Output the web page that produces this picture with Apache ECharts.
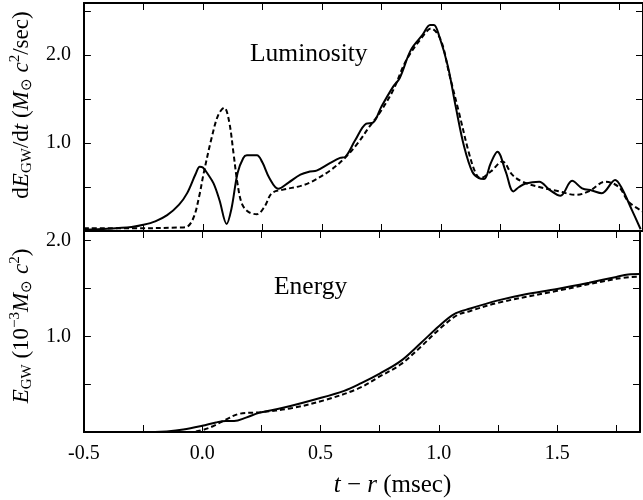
<!DOCTYPE html>
<html><head><meta charset="utf-8">
<script src="https://cdn.jsdelivr.net/npm/echarts/dist/echarts.min.js"></script>
<style>html,body{margin:0;padding:0;background:#fff}#c{width:643px;height:500px}</style>
</head><body><div id="c"></div>
<script>
// ---- data ----
const lumSolid = [
 [-0.50,0.015],[-0.40,0.025],[-0.30,0.045],[-0.25,0.07],[-0.20,0.11],[-0.15,0.18],[-0.10,0.30],
 [-0.066,0.43],[-0.03,0.65],[-0.013,0.73],[0.0,0.72],[0.02,0.65],[0.045,0.54],[0.07,0.35],
 [0.10,0.08],[0.12,0.25],[0.146,0.66],[0.17,0.83],[0.185,0.86],[0.227,0.86],[0.25,0.78],
 [0.28,0.60],[0.317,0.48],[0.36,0.55],[0.41,0.64],[0.45,0.675],[0.478,0.685],[0.534,0.77],
 [0.577,0.83],[0.60,0.845],[0.64,1.03],[0.687,1.22],[0.715,1.23],[0.75,1.41],[0.80,1.64],
 [0.827,1.735],[0.875,2.06],[0.924,2.23],[0.955,2.34],[0.971,2.34],[0.994,2.21],[1.03,1.87],
 [1.063,1.41],[1.098,0.96],[1.133,0.67],[1.16,0.60],[1.182,0.59],[1.21,0.77],[1.238,0.90],
 [1.273,0.675],[1.305,0.45],[1.329,0.50],[1.357,0.54],[1.414,0.56],[1.456,0.47],[1.503,0.40],
 [1.552,0.57],[1.594,0.485],[1.635,0.46],[1.677,0.43],[1.733,0.58],[1.761,0.485],[1.803,0.24],
 [1.84,0.02]
];
const lumDashed = [
 [-0.50,0.03],[-0.30,0.03],[-0.10,0.04],[-0.066,0.05],[-0.038,0.16],[-0.015,0.40],[0.003,0.65],
 [0.038,1.07],[0.065,1.32],[0.09,1.40],[0.11,1.25],[0.129,0.88],[0.145,0.55],[0.164,0.31],
 [0.19,0.22],[0.227,0.19],[0.26,0.28],[0.29,0.43],[0.338,0.47],[0.408,0.51],[0.45,0.55],
 [0.534,0.685],[0.597,0.83],[0.652,1.0],[0.70,1.185],[0.743,1.34],[0.80,1.60],[0.855,1.94],
 [0.924,2.21],[0.959,2.30],[1.0,2.17],[1.035,1.79],[1.077,1.34],[1.119,0.88],[1.147,0.655],
 [1.167,0.60],[1.21,0.675],[1.259,0.79],[1.30,0.64],[1.343,0.56],[1.414,0.50],[1.497,0.45],
 [1.567,0.41],[1.622,0.45],[1.692,0.56],[1.748,0.50],[1.79,0.33],[1.85,0.22]
];
const enSolid = [
 [-0.50,0],[-0.20,0],[-0.15,0.005],[-0.08,0.025],[0.0,0.065],[0.058,0.10],[0.10,0.115],
 [0.135,0.115],[0.185,0.15],[0.24,0.20],[0.337,0.25],[0.476,0.34],[0.60,0.43],[0.672,0.51],
 [0.75,0.61],[0.838,0.74],[0.924,0.93],[1.0,1.105],[1.063,1.23],[1.133,1.29],[1.25,1.375],
 [1.357,1.435],[1.5,1.495],[1.635,1.56],[1.75,1.62],[1.80,1.645],[1.85,1.65]
];
const enDashed = [
 [-0.50,0],[-0.05,0],[0.0,0.02],[0.045,0.06],[0.10,0.13],[0.157,0.19],[0.24,0.205],
 [0.38,0.25],[0.52,0.335],[0.66,0.455],[0.75,0.58],[0.838,0.705],[0.924,0.89],[1.0,1.07],
 [1.077,1.22],[1.133,1.265],[1.25,1.35],[1.5,1.475],[1.75,1.60],[1.85,1.625]
];
const xLabelValues = [-0.5, 0.0, 0.5, 1.0, 1.5];
const yLabelValues = [1.0, 2.0];
const panelTitles = ['Luminosity', 'Energy'];

// ---- chart ----
const FONT = "'Liberation Serif','Times New Roman',serif";
const chart = echarts.init(document.getElementById('c'), null, {renderer: 'canvas'});
const near = (v, arr) => arr.some(a => Math.abs(a - v) < 1e-6);
const line = {show: true, onZero: false, lineStyle: {color: '#000', width: 2}};
const tick = {show: true, inside: true, length: 7, lineStyle: {color: '#000', width: 1}};
function rich(size, sub) {
  return {
    i: {fontFamily: FONT, fontStyle: 'italic', fontSize: size, color: '#000', lineHeight: size + 4, verticalAlign: 'middle'},
    n: {fontFamily: FONT, fontSize: size, color: '#000', lineHeight: size + 4, verticalAlign: 'middle'},
    sub: {fontFamily: FONT, fontSize: sub, color: '#000', lineHeight: sub + 3, verticalAlign: 'bottom'},
    sup: {fontFamily: FONT, fontSize: sub, color: '#000', lineHeight: sub + 3, verticalAlign: 'top'}
  };
}
function xAx(gi, pos, labels, name) {
  return {
    type: 'value', gridIndex: gi, position: pos, min: -0.5, max: 1.85, interval: 0.25,
    axisLine: line, axisTick: tick, splitLine: {show: false},
    axisLabel: {show: labels, margin: 12, fontFamily: FONT, fontSize: 20, color: '#000',
      formatter: v => near(v, xLabelValues) ? v.toFixed(1) : ''},
    name: name || '', nameLocation: 'middle', nameGap: 39,
    nameTextStyle: {rich: rich(25, 17), padding: [0, 0, 0, 61]}
  };
}
function yAx(gi, pos, max, labels, name, shift) {
  return {
    type: 'value', gridIndex: gi, position: pos, min: 0, max: max, interval: 0.5,
    axisLine: line, axisTick: tick, splitLine: {show: false},
    axisLabel: {show: labels, margin: 13, fontFamily: FONT, fontSize: 20, color: '#000',
      formatter: v => near(v, yLabelValues) ? v.toFixed(1) : ''},
    name: name || '', nameLocation: 'middle', nameGap: 47, nameRotate: 90,
    nameTextStyle: {rich: rich(23, 15), padding: [0, 0, 0, shift || 0]}
  };
}
function ser(data, xi, dashed) {
  return {
    type: 'line', xAxisIndex: xi, yAxisIndex: xi, data: data, showSymbol: false, smooth: 0.35,
    lineStyle: {color: '#000', width: 2, type: dashed ? [5, 3] : 'solid'}, z: dashed ? 2 : 3,
    animation: false
  };
}
const option = {
  animation: false,
  backgroundColor: '#fff',
  grid: [
    {left: 83, right: -2, top: 3, height: 228},
    {left: 83, right: -2, top: 231, bottom: 68}
  ],
  xAxis: [
    xAx(0, 'bottom', false),
    xAx(1, 'bottom', true, '{i|t}{n| \u2212 }{i|r}{n| (msec)}'),
    xAx(0, 'top', false),
    xAx(1, 'top', false)
  ],
  yAxis: [
    yAx(0, 'left', 2.59, true, '{n|d}{i|E}{sub|GW}{n|/d}{i|t}{n| (}{i|M}{sub|\u2299}{n| }{i|c}{sup|2}{n|/sec)}', 24),
    yAx(1, 'left', 2.1, true, '{i|E}{sub|GW}{n| (10}{sup|\u22123}{i|M}{sub|\u2299}{n| }{i|c}{sup|2}{n|)}', 11),
    yAx(0, 'right', 2.59, false),
    yAx(1, 'right', 2.1, false)
  ],
  series: [
    ser(lumSolid, 0, false), ser(lumDashed, 0, true),
    ser(enSolid, 1, false), ser(enDashed, 1, true)
  ],
  graphic: [
    {type: 'text', left: 250, top: 41, style: {text: panelTitles[0], font: '25.5px ' + FONT, fill: '#000'}},
    {type: 'text', left: 274, top: 274, style: {text: panelTitles[1], font: '25.5px ' + FONT, fill: '#000'}}
  ]
};
chart.setOption(option);
</script></body></html>
